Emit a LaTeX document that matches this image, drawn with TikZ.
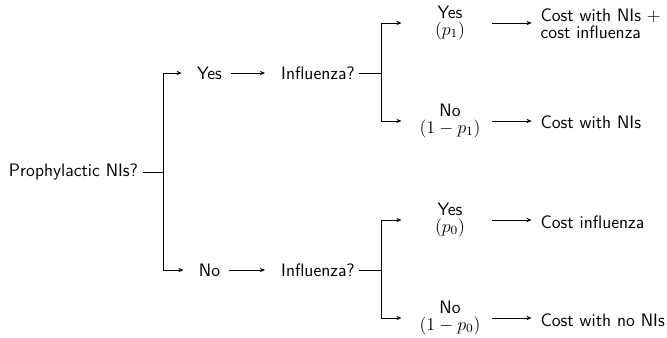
\RequirePackage{fix-cm}
\documentclass[tikz,border=0pt]{standalone}
\usepackage{amsmath}
\usepackage{tikz}
\usetikzlibrary{positioning,arrows.meta}
\newcommand{\treefont}{\fontsize{12.5}{11.5}\selectfont\sffamily}
\tikzset{
  choice/.style={font=\treefont, align=center, inner sep=3pt},
  outcome/.style={font=\treefont, align=center, inner sep=3pt, minimum width=52pt},
  payoff/.style={font=\treefont, align=left, inner sep=3pt, anchor=west},
  forkarr/.style={-{Stealth[length=3.6pt,width=3pt]}, line width=0.6pt, shorten >=7.5pt},
  flowarr/.style={-{Stealth[length=3.6pt,width=3pt]}, line width=0.6pt, shorten <=3pt, shorten >=8pt},
  payarr/.style={-{Stealth[length=3.6pt,width=3pt]}, line width=0.6pt, shorten <=3pt, shorten >=3pt},
  stub/.style={line width=0.6pt}
}

\begin{document}
\begin{tikzpicture}[x=0.0244cm, y=-0.0244cm]
\useasboundingbox (0,0) rectangle (667,338);
% decision
\node[choice] (root) at (73.5,172) {Prophylactic NIs?};
\coordinate (f0) at (163,172);
\node[choice] (yes) at (209.5,73) {Yes};
\node[choice] (no) at (209.5,270) {No};
\node[choice] (flu1) at (318,73) {Influenza?};
\node[choice] (flu0) at (318,270) {Influenza?};
\coordinate (f1) at (381,73);
\coordinate (f2) at (381,270);
% chance outcomes
\node[outcome] (fy1) at (450,23) {Yes\\$(p_1)$};
\node[outcome] (fn1) at (450,121) {No\\$(1-p_1)$};
\node[outcome] (fy0) at (450,220) {Yes\\$(p_0)$};
\node[outcome] (fn0) at (450,318) {No\\$(1-p_0)$};
% costs
\node[payoff] (c1) at (536,24) {Cost with NIs $+$\\cost influenza};
\node[payoff] (c2) at (536,122) {Cost with NIs};
\node[payoff] (c3) at (536,222) {Cost influenza};
\node[payoff] (c4) at (536,320) {Cost with no NIs};

\draw[stub] (root.east) -- (f0);
\draw[forkarr] (f0) |- (yes.west);
\draw[forkarr] (f0) |- (no.west);
\draw[flowarr] (yes) -- (flu1);
\draw[flowarr] (no) -- (flu0);
\draw[stub] (flu1.east) -- (f1);
\draw[stub] (flu0.east) -- (f2);
\draw[forkarr] (f1) |- (fy1.west);
\draw[forkarr] (f1) |- (fn1.west);
\draw[forkarr] (f2) |- (fy0.west);
\draw[forkarr] (f2) |- (fn0.west);
\draw[payarr] (fy1.east) -- (c1.west|-fy1.east);
\draw[payarr] (fn1.east) -- (c2.west|-fn1.east);
\draw[payarr] (fy0.east) -- (c3.west|-fy0.east);
\draw[payarr] (fn0.east) -- (c4.west|-fn0.east);
\end{tikzpicture}
\end{document}
